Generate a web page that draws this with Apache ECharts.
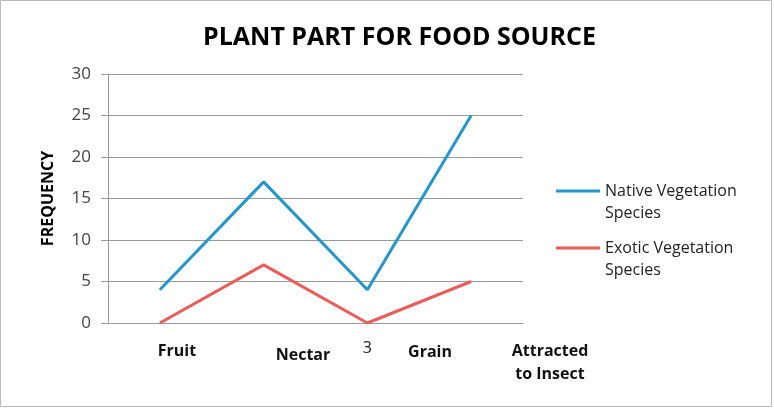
<!DOCTYPE html>
<html>
<head>
<meta charset="utf-8">
<script src="https://cdn.jsdelivr.net/npm/echarts@6/dist/echarts.min.js"></script>
<style>
html, body { margin: 0; padding: 0; background: #fff; }
#chart { width: 774px; height: 408px; }
</style>
</head>
<body>
<div id="chart"></div>
<script>
// axis categories (the original only shows "3", the rest are covered by text boxes)
var categories = ['1', '2', '3', '4'];
var partLabels = ['Fruit', 'Nectar', 'Grain', 'Attracted\nto Insect'];
var nativeValues = [4, 17, 4, 25];
var exoticValues = [0, 7, 0, 5];

var myChart = echarts.init(document.getElementById('chart'));
var font = '"Open Sans", sans-serif';

function partText(i, x, y) {
    return {
        type: 'text', x: x, y: y, silent: true,
        style: {
            text: partLabels[i], font: 'bold 16px ' + font, fill: '#111',
            align: 'center', verticalAlign: 'middle', lineHeight: 23
        }
    };
}

var option = {
    animation: false,
    backgroundColor: '#fff',
    title: {
        text: 'PLANT PART FOR FOOD SOURCE',
        left: 198,
        top: 20,
        textStyle: { fontFamily: font, fontWeight: 'bold', fontSize: 25, color: '#000' }
    },
    legend: {
        orient: 'vertical',
        left: 556,
        top: 158,
        padding: 0,
        itemWidth: 44,
        itemHeight: 3,
        itemGap: -9,
        icon: 'rect',
        // leading empty line keeps the line marker beside the first text line
        formatter: function (name) { return '\n' + name; },
        textStyle: { fontFamily: font, fontSize: 16, color: '#222', lineHeight: 22 },
        data: ['Native Vegetation\nSpecies', 'Exotic Vegetation\nSpecies']
    },
    grid: { left: 108, right: 251, top: 74, bottom: 85 },
    xAxis: {
        type: 'category',
        data: categories,
        boundaryGap: true,
        axisLine: { lineStyle: { color: '#999' } },
        axisTick: { length: 7, lineStyle: { color: '#999' } },
        axisLabel: {
            margin: 17,
            fontFamily: font,
            fontSize: 16,
            color: '#222',
            formatter: function (v) { return v === '3' ? v : ''; }
        }
    },
    yAxis: {
        type: 'value',
        min: 0,
        max: 30,
        interval: 5,
        name: 'FREQUENCY',
        nameLocation: 'middle',
        nameGap: 52,
        nameTextStyle: { fontFamily: font, fontWeight: 'bold', fontSize: 16, color: '#000' },
        axisLine: { show: true, lineStyle: { color: '#999' } },
        axisTick: { show: true, length: 7, lineStyle: { color: '#999' } },
        splitLine: { lineStyle: { color: '#999' } },
        axisLabel: { margin: 17, fontFamily: font, fontSize: 17, color: '#444' }
    },
    series: [
        {
            name: 'Native Vegetation\nSpecies',
            type: 'line',
            data: nativeValues,
            symbol: 'none',
            lineStyle: { width: 3, color: '#2596cb' },
            itemStyle: { color: '#2596cb' }
        },
        {
            name: 'Exotic Vegetation\nSpecies',
            type: 'line',
            data: exoticValues,
            symbol: 'none',
            lineStyle: { width: 3, color: '#ea5d58' },
            itemStyle: { color: '#ea5d58' }
        }
    ],
    graphic: [
        {
            type: 'rect',
            shape: { x: 0.5, y: 0.5, width: 771, height: 406 },
            style: { fill: 'none', stroke: '#bbb', lineWidth: 1 },
            silent: true
        },
        partText(0, 177, 351),
        partText(1, 303, 355),
        partText(2, 430, 352),
        partText(3, 550, 363)
    ]
};

myChart.setOption(option);
</script>
</body>
</html>
